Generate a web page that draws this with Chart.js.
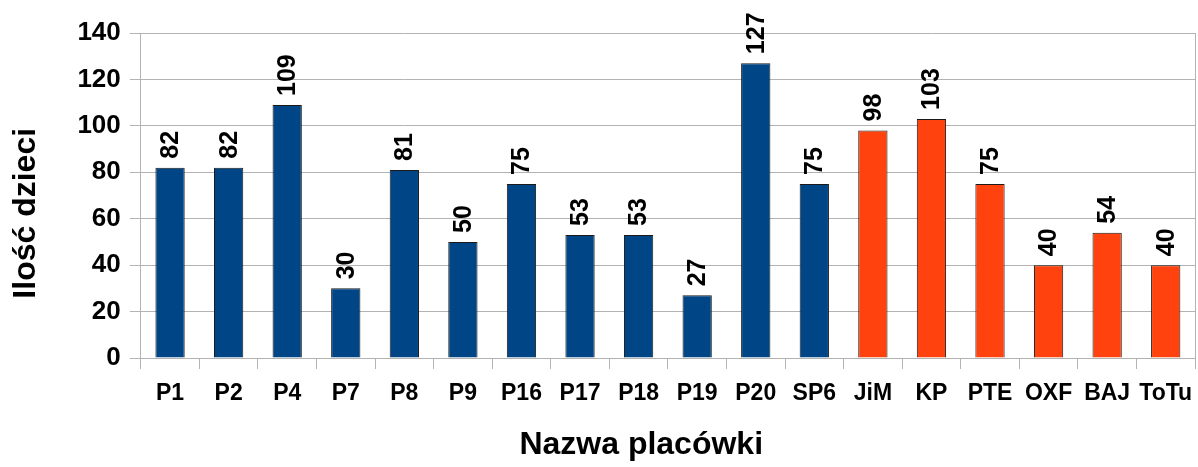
<!DOCTYPE html>
<html>
<head>
<meta charset="utf-8">
<script src="https://cdn.jsdelivr.net/npm/chart.js@4"></script>
<style>
  body { margin: 0; background: #fff; }
  #wrap { width: 1198px; height: 467px; position: relative; }
</style>
</head>
<body>
<div id="wrap"><canvas id="wykres"></canvas></div>
<script>
// dane z wykresu
const placowki = ['P1', 'P2', 'P4', 'P7', 'P8', 'P9', 'P16', 'P17', 'P18', 'P19', 'P20', 'SP6', 'JiM', 'KP', 'PTE', 'OXF', 'BAJ', 'ToTu'];
const iloscDzieci = [82, 82, 109, 30, 81, 50, 75, 53, 53, 27, 127, 75, 98, 103, 75, 40, 54, 40];
// typ placówki: 'pub' = publiczna, 'niepub' = niepubliczna
const typPlacowki = ['pub', 'pub', 'pub', 'pub', 'pub', 'pub', 'pub', 'pub', 'pub', 'pub', 'pub', 'pub',
    'niepub', 'niepub', 'niepub', 'niepub', 'niepub', 'niepub'];
const osY = { min: 0, max: 140, krok: 20 };

const kolory = { pub: '#004586', niepub: '#ff420e' };
const szary = '#b3b3b3';
const czcionka = '"Liberation Sans", Arial, sans-serif';
const nbsp = '\u00a0';

// etykiety wartości obrócone o 90 stopni nad słupkami
const etykietyWartosci = {
    id: 'etykietyWartosci',
    afterDatasetsDraw(chart) {
        const ctx = chart.ctx;
        const meta = chart.getDatasetMeta(0);
        ctx.save();
        ctx.font = 'bold 25px ' + czcionka;
        ctx.fillStyle = '#000';
        ctx.textAlign = 'left';
        ctx.textBaseline = 'middle';
        meta.data.forEach((bar, i) => {
            ctx.save();
            ctx.translate(bar.x + 1, bar.y - 9);
            ctx.rotate(-Math.PI / 2);
            ctx.fillText(String(iloscDzieci[i]), 0, 0);
            ctx.restore();
        });
        ctx.restore();
    }
};

new Chart(document.getElementById('wykres'), {
    type: 'bar',
    data: {
        labels: placowki,
        datasets: [{
            data: iloscDzieci,
            backgroundColor: typPlacowki.map(t => kolory[t]),
            borderColor: '#1a1a1a',
            borderWidth: 1,
            barPercentage: 0.5,
            categoryPercentage: 1
        }]
    },
    options: {
        responsive: true,
        maintainAspectRatio: false,
        animation: false,
        layout: { padding: { top: 33, right: 3, left: 4, bottom: 0 } },
        plugins: {
            legend: { display: false },
            tooltip: { enabled: false }
        },
        scales: {
            x: {
                // bez dodatkowego marginesu na skrajne etykiety
                afterFit: s => { s.paddingLeft = 0; s.paddingRight = 0; },
                grid: {
                    offset: true,
                    // tylko prawa krawędź obszaru wykresu
                    color: c => c.type === 'scale' ? szary : 'transparent',
                    tickColor: szary,
                    tickLength: 11
                },
                border: { color: szary },
                ticks: {
                    color: '#000',
                    font: { family: czcionka, size: 23, weight: 'bold' },
                    padding: 11,
                    maxRotation: 0,
                    autoSkip: false
                },
                title: {
                    display: true,
                    text: 'Nazwa placówki' + nbsp.repeat(6),
                    color: '#000',
                    font: { family: czcionka, size: 32, weight: 'bold' },
                    padding: { top: 7, bottom: 3 }
                }
            },
            y: {
                min: osY.min,
                max: osY.max,
                grid: { color: szary, tickColor: szary, tickLength: 11 },
                border: { color: szary },
                ticks: {
                    stepSize: osY.krok,
                    color: '#000',
                    font: { family: czcionka, size: 26, weight: 'bold' },
                    padding: 9
                },
                title: {
                    display: true,
                    text: 'Ilość dzieci' + nbsp.repeat(4),
                    color: '#000',
                    font: { family: czcionka, size: 32, weight: 'bold' },
                    padding: { top: 3, bottom: 23 }
                }
            }
        }
    },
    plugins: [etykietyWartosci]
});
</script>
</body>
</html>
